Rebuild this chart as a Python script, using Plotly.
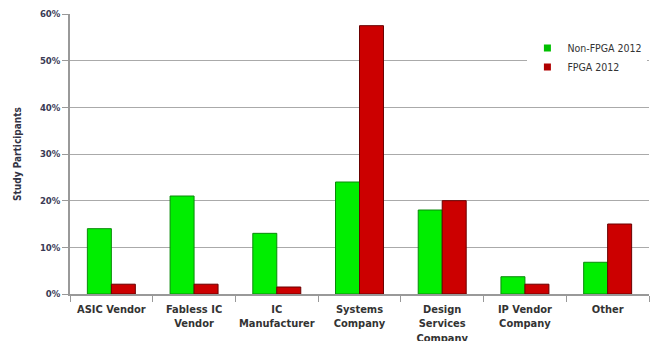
import plotly.graph_objects as go

# Share of study participants by company type
categories = [
    "ASIC Vendor",
    "Fabless IC<br>Vendor",
    "IC<br>Manufacturer",
    "Systems<br>Company",
    "Design<br>Services<br>Company",
    "IP Vendor<br>Company",
    "Other",
]
non_fpga_2012 = [14, 21, 13, 24, 18, 3.7, 6.8]
fpga_2012 = [2.1, 2.1, 1.5, 57.5, 20, 2.1, 15]
y_ticks = [0, 10, 20, 30, 40, 50, 60]
y_tick_labels = [f"{v}%" for v in y_ticks]

series = [
    ("Non-FPGA 2012", non_fpga_2012, "#00ee00", "#0a8a0a", "#00c000"),
    ("FPGA 2012", fpga_2012, "#cc0000", "#6a0000", "#b00000"),
]

fig = go.Figure()
for name, values, fill, edge, key in series:
    fig.add_trace(go.Bar(
        name=name,
        x=categories,
        y=values,
        showlegend=False,
        marker=dict(color=fill, line=dict(color=edge, width=1)),
    ))
# Legend keys drawn as small squares
for name, values, fill, edge, key in series:
    fig.add_trace(go.Scatter(
        name=name,
        x=[None],
        y=[None],
        mode="markers",
        marker=dict(symbol="square", size=7, color=key),
    ))

fig.update_layout(
    width=650,
    height=341,
    margin=dict(l=70, r=1, t=14, b=47),
    paper_bgcolor="white",
    plot_bgcolor="white",
    barmode="group",
    bargap=0.42,
    bargroupgap=0,
    font=dict(family="DejaVu Sans", color="#333333"),
    legend=dict(
        x=0.79, y=0.93, xanchor="left", yanchor="top",
        bgcolor="white",
        font=dict(size=10.5, family="DejaVu Sans Condensed", color="#333333"),
        itemwidth=30,
        tracegroupgap=0,
        borderwidth=0,
    ),
    xaxis=dict(
        showline=True, linecolor="#999999", linewidth=1.5,
        ticks="outside", tickson="boundaries", ticklen=6, tickcolor="#999999",
        tickangle=0, automargin=False, ticklabelstandoff=4,
        tickfont=dict(size=11, family="DejaVu Sans Condensed", weight="bold", color="#333333"),
    ),
    yaxis=dict(
        range=[0, 60],
        tickvals=y_ticks,
        ticktext=y_tick_labels,
        showline=True, linecolor="#999999", linewidth=1.5,
        showgrid=True, gridcolor="#aaaaaa", gridwidth=1.2,
        ticks="outside", ticklen=6, tickcolor="#999999",
        automargin=False,
        tickfont=dict(size=9.5, family="DejaVu Sans Condensed", weight="bold", color="#3a3a55"),
        title=dict(text="Study Participants", standoff=16,
                   font=dict(size=10, family="DejaVu Sans Condensed", weight="bold", color="#333344")),
        zeroline=False,
    ),
)

fig.write_html("out.html")
